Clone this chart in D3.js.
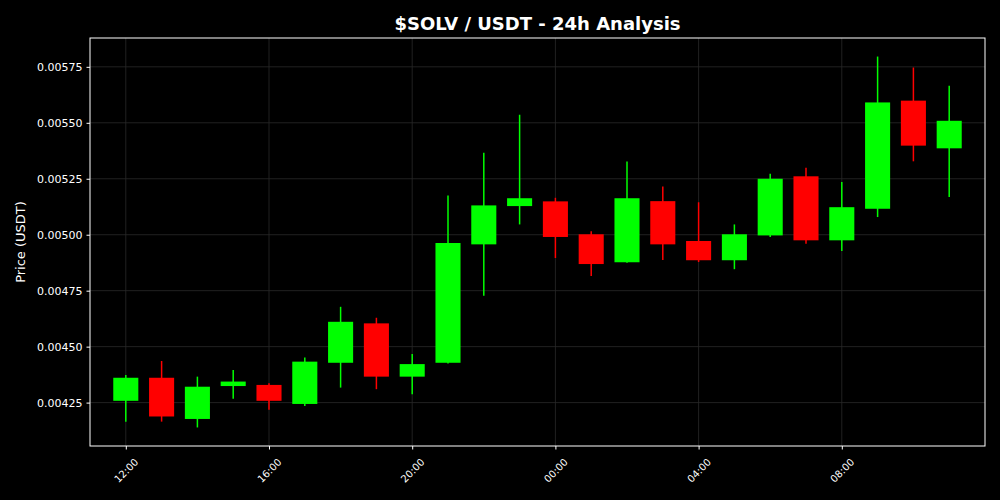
<!DOCTYPE html>
<html>
<head>
<meta charset="utf-8">
<script src="https://cdn.jsdelivr.net/npm/d3@7"></script>
<style>
  html, body { margin: 0; padding: 0; background: #000; }
  svg { display: block; font-family: "DejaVu Sans", sans-serif; }
</style>
</head>
<body>
<svg id="chart" width="1000" height="500"></svg>
<script>
// Hourly candles starting 12:00
const hours = [12,13,14,15,16,17,18,19,20,21,22,23,0,1,2,3,4,5,6,7,8,9,10,11];
const opens  = [0.004258,0.004361,0.004177,0.004324,0.004329,0.004244,0.004428,0.004604,0.004366,0.004428,0.004957,0.005128,0.005149,0.005002,0.004877,0.005150,0.004972,0.004886,0.004997,0.005261,0.004975,0.005116,0.005599,0.005386];
const highs  = [0.004373,0.004436,0.004366,0.004396,0.004336,0.004452,0.004678,0.004629,0.004467,0.005175,0.005366,0.005536,0.005165,0.005015,0.005327,0.005215,0.005145,0.005046,0.005272,0.005299,0.005235,0.005796,0.005747,0.005665];
const lows   = [0.004165,0.004165,0.004139,0.004267,0.004218,0.004235,0.004317,0.004310,0.004287,0.004425,0.004727,0.005046,0.004896,0.004816,0.004875,0.004887,0.004878,0.004846,0.004990,0.004960,0.004927,0.005079,0.005328,0.005168];
const closes = [0.004361,0.004188,0.004321,0.004344,0.004258,0.004433,0.004611,0.004366,0.004422,0.004963,0.005131,0.005163,0.004990,0.004869,0.005163,0.004957,0.004886,0.005002,0.005250,0.004975,0.005123,0.005591,0.005398,0.005509];
const yTicks = [0.00425,0.00450,0.00475,0.00500,0.00525,0.00550,0.00575];
const xTickLabels = ["12:00","16:00","20:00","00:00","04:00","08:00"];

const title = "$SOLV / USDT - 24h Analysis";
const yLabel = "Price (USDT)";

const base = new Date(2024, 0, 1, 12, 0, 0);
const HOUR = 3600 * 1000;
const data = hours.map((h, i) => ({
  t: new Date(base.getTime() + i * HOUR),
  o: opens[i], h: highs[i], l: lows[i], c: closes[i]
}));

const W = 1000, H = 500;
const m = { left: 90, right: 15, top: 38, bottom: 54 };
const svg = d3.select("#chart");
svg.append("rect").attr("width", W).attr("height", H).attr("fill", "#000");

const x = d3.scaleTime()
  .domain([new Date(base.getTime() - HOUR), new Date(base.getTime() + 24 * HOUR)])
  .range([m.left, W - m.right]);

const lo = d3.min(lows), hi = d3.max(highs), pad = (hi - lo) * 0.05;
const y = d3.scaleLinear().domain([lo - pad, hi + pad]).range([H - m.bottom, m.top]);

const xTickDates = xTickLabels.map((_, i) => new Date(base.getTime() + i * 4 * HOUR));

// grid
const grid = svg.append("g").attr("stroke", "#2a2a2a").attr("stroke-width", 0.8);
grid.selectAll(".gy").data(yTicks).join("line")
  .attr("x1", m.left).attr("x2", W - m.right)
  .attr("y1", d => y(d)).attr("y2", d => y(d));
grid.selectAll(".gx").data(xTickDates).join("line")
  .attr("y1", m.top).attr("y2", H - m.bottom)
  .attr("x1", d => x(d)).attr("x2", d => x(d));

// candles
const hourPx = x(new Date(base.getTime() + HOUR)) - x(base);
const bw = hourPx * 0.7;
const up = "#00ff00", down = "#ff0000";
const g = svg.append("g");
g.selectAll(".wick").data(data).join("line")
  .attr("x1", d => x(d.t)).attr("x2", d => x(d.t))
  .attr("y1", d => y(d.h)).attr("y2", d => y(d.l))
  .attr("stroke", d => d.c >= d.o ? up : down).attr("stroke-width", 1.5);
g.selectAll(".body").data(data).join("rect")
  .attr("x", d => x(d.t) - bw / 2).attr("width", bw)
  .attr("y", d => y(Math.max(d.o, d.c)))
  .attr("height", d => Math.max(1, Math.abs(y(d.o) - y(d.c))))
  .attr("fill", d => d.c >= d.o ? up : down);

// frame
svg.append("rect").attr("x", m.left).attr("y", m.top)
  .attr("width", W - m.left - m.right).attr("height", H - m.top - m.bottom)
  .attr("fill", "none").attr("stroke", "#fff").attr("stroke-width", 1);

// y axis
const yAxis = svg.append("g").attr("transform", `translate(${m.left},0)`)
  .call(d3.axisLeft(y).tickValues(yTicks).tickFormat(d3.format(".5f")).tickSize(3.5).tickPadding(4));
yAxis.select(".domain").remove();
yAxis.selectAll("line").attr("stroke", "#fff");
yAxis.selectAll("text").attr("fill", "#fff").attr("font-size", 11).attr("font-family", "DejaVu Sans");

// x axis
const xAxis = svg.append("g").attr("transform", `translate(0,${H - m.bottom})`)
  .call(d3.axisBottom(x).tickValues(xTickDates).tickFormat((d, i) => xTickLabels[i]).tickSize(3.5));
xAxis.select(".domain").remove();
xAxis.selectAll("line").attr("stroke", "#fff");
xAxis.selectAll("text").attr("fill", "#fff").attr("font-size", 10).attr("font-family", "DejaVu Sans")
  .attr("text-anchor", "middle").attr("dy", "0.35em").attr("y", null)
  .attr("transform", "translate(0,24.5) rotate(-45)");

// labels
svg.append("text").attr("x", (m.left + W - m.right) / 2).attr("y", 30)
  .attr("text-anchor", "middle").attr("fill", "#fff").attr("font-size", 18).attr("font-weight", "bold")
  .text(title);
svg.append("text").attr("transform", `translate(25,${(m.top + H - m.bottom) / 2}) rotate(-90)`)
  .attr("text-anchor", "middle").attr("fill", "#fff").attr("font-size", 13)
  .text(yLabel);
</script>
</body>
</html>
